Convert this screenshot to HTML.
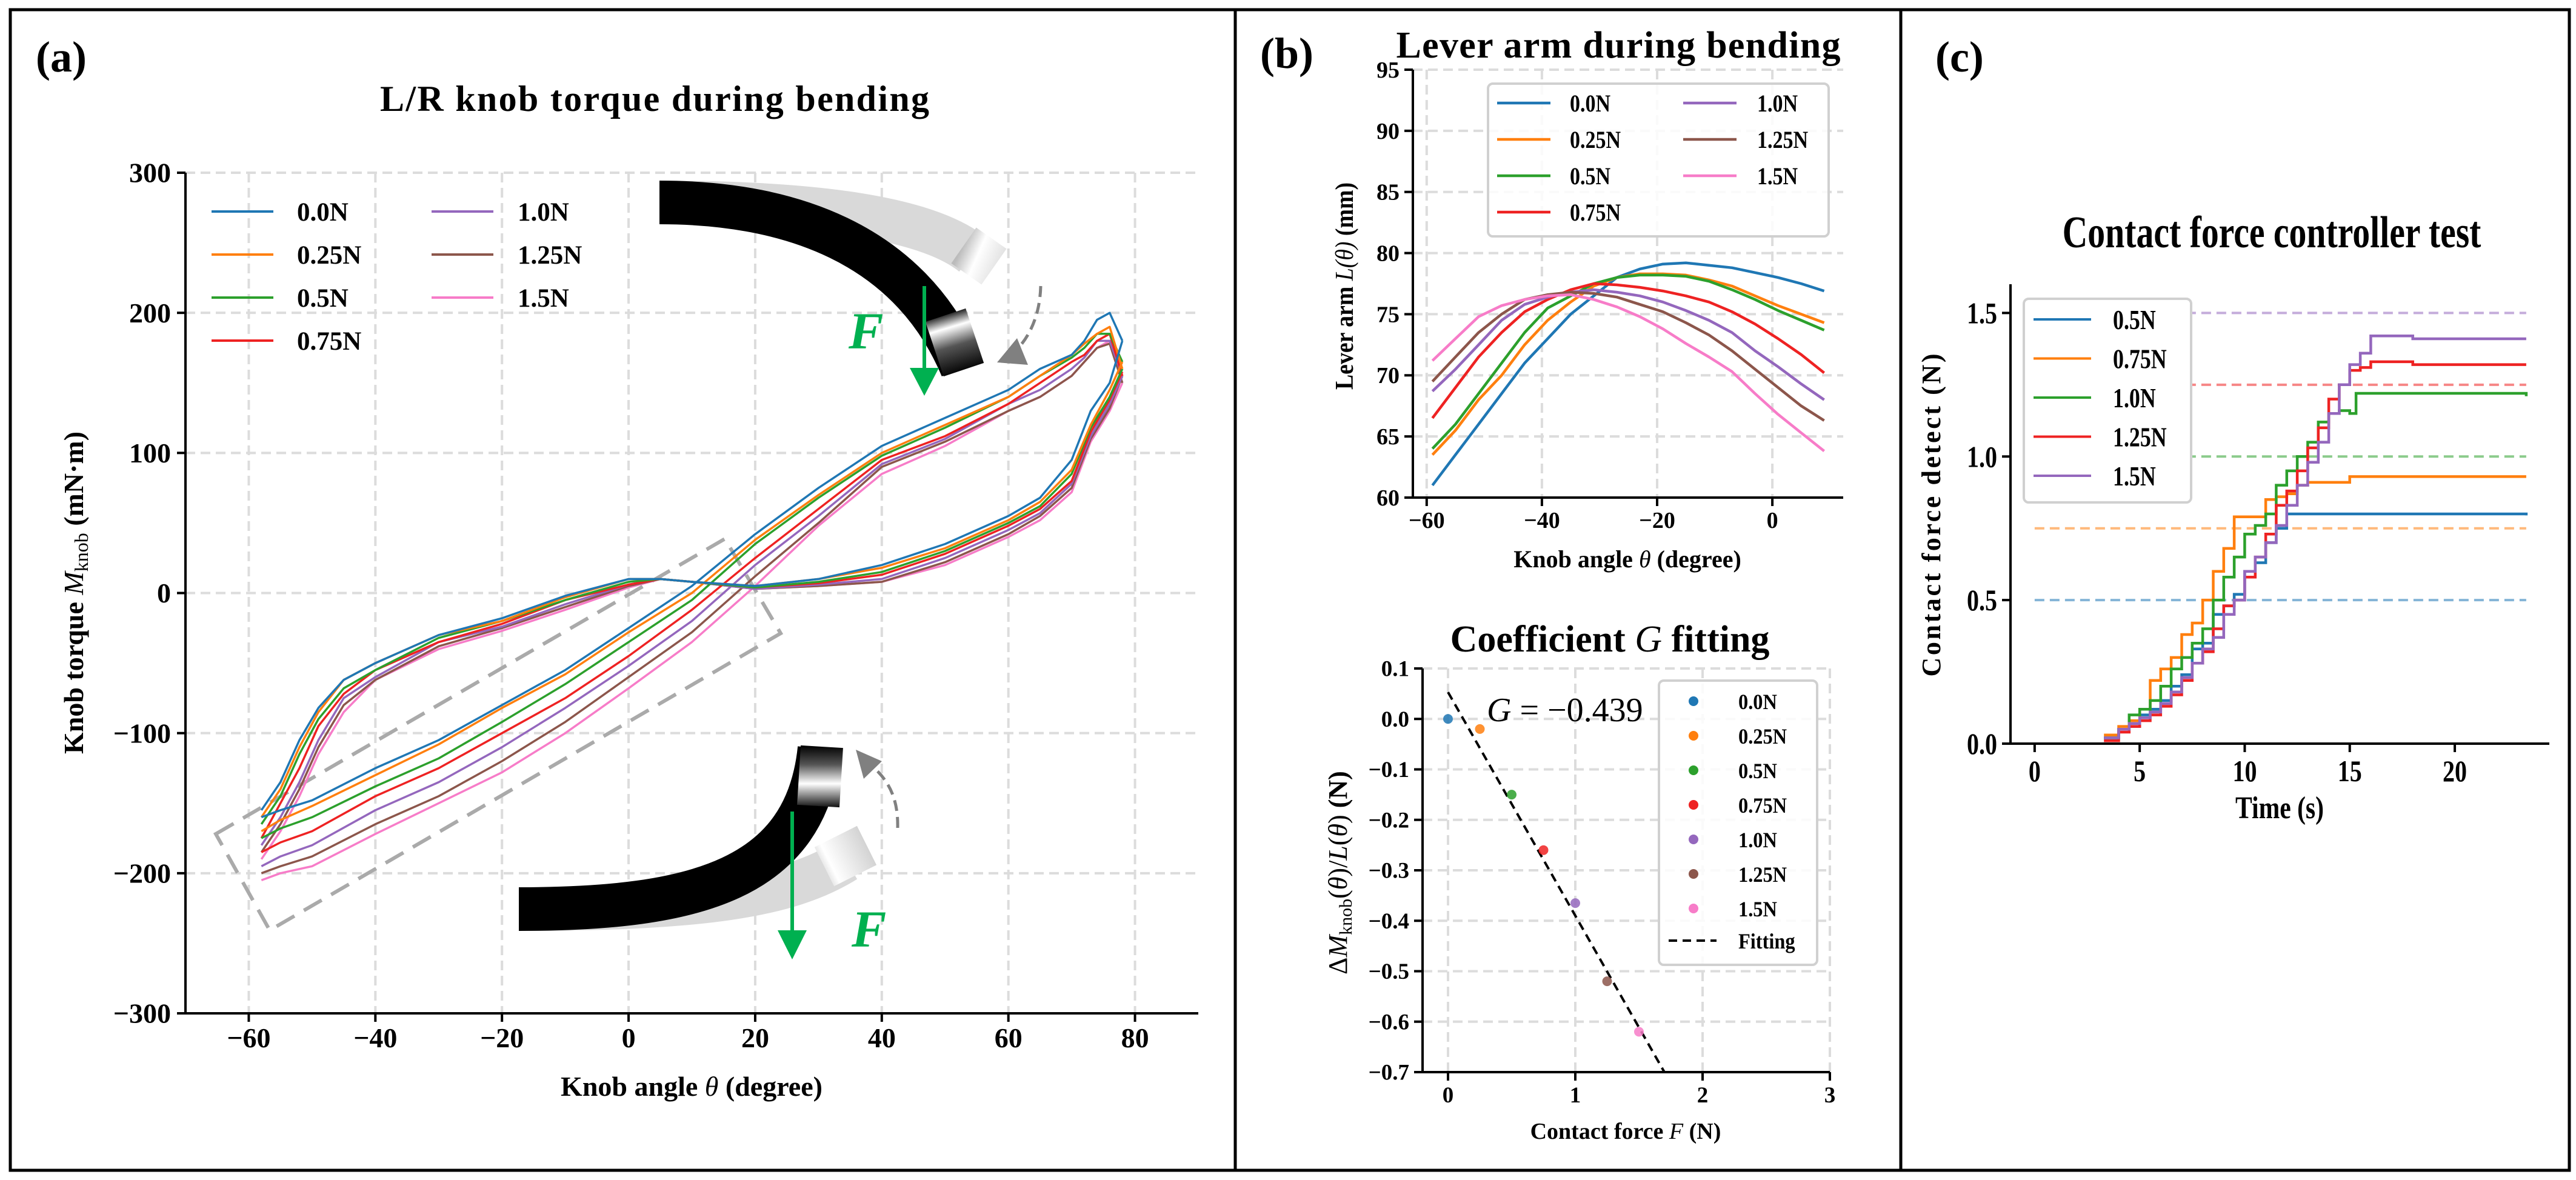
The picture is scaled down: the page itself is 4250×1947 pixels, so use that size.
<!DOCTYPE html>
<html><head><meta charset="utf-8"><style>
html,body{margin:0;padding:0;background:#fff;}
svg{display:block;}
text{font-family:"Liberation Serif",serif;}
</style></head>
<body>
<svg id="fig" width="4250" height="1947" viewBox="0 0 4250 1947" xmlns="http://www.w3.org/2000/svg">
<defs>
<linearGradient id="tipUp" gradientUnits="userSpaceOnUse" x1="1560" y1="515" x2="1590" y2="615">
<stop offset="0" stop-color="#000"/><stop offset="0.25" stop-color="#fff"/><stop offset="0.55" stop-color="#555"/><stop offset="1" stop-color="#000"/></linearGradient>
<linearGradient id="tipDn" gradientUnits="userSpaceOnUse" x1="1352" y1="1335" x2="1352" y2="1230">
<stop offset="0" stop-color="#000"/><stop offset="0.4" stop-color="#fff"/><stop offset="0.7" stop-color="#555"/><stop offset="1" stop-color="#000"/></linearGradient>
<linearGradient id="ghostUp" gradientUnits="userSpaceOnUse" x1="1590" y1="400" x2="1680" y2="440">
<stop offset="0" stop-color="#bbb"/><stop offset="0.3" stop-color="#fff"/><stop offset="1" stop-color="#ccc"/></linearGradient>
<linearGradient id="ghostDn" gradientUnits="userSpaceOnUse" x1="1340" y1="1440" x2="1440" y2="1390">
<stop offset="0" stop-color="#bbb"/><stop offset="0.3" stop-color="#fff"/><stop offset="1" stop-color="#ccc"/></linearGradient>
</defs>
<rect x="0" y="0" width="4250" height="1947" fill="#fff"/>
<g id="frames" fill="none" stroke="#000" stroke-width="5">
<rect x="17" y="16" width="4222" height="1915"/>
<line x1="2038" y1="16" x2="2038" y2="1931"/>
<line x1="3136" y1="16" x2="3136" y2="1931"/>
</g>
<text x="59" y="118" font-size="72" font-weight="bold">(a)</text>
<text x="2079" y="112" font-size="72" font-weight="bold">(b)</text>
<text x="3193" y="118" font-size="72" font-weight="bold">(c)</text>
<g id="gA"></g><g id="gB1"></g><g id="gB2"></g><g id="gC"></g>
</svg>
<script>
// ---------- DATA ----------
const forces = ['0.0N','0.25N','0.5N','0.75N','1.0N','1.25N','1.5N'];
const colors = ['#1f77b4','#ff7f0e','#2ca02c','#ee2222','#9467bd','#8c564b','#f77cc8'];
// Panel (a) branch A (forward)
const thetaA = [-58,-55,-52,-49,-45,-40,-30,-20,-10,0,5,10,20,30,40,50,60,65,70,73,76,78];
const torqueA0 = [-155,-135,-105,-82,-62,-50,-30,-18,-2,10,10,8,5,10,20,35,55,68,95,130,150,180];
const torqueA1 = [-160,-140,-110,-85,-62,-50,-30,-20,-3,10,10,8,5,10,18,32,52,65,88,120,145,165];
const torqueA2 = [-165,-145,-115,-90,-68,-55,-32,-20,-5,8,10,8,4,8,15,30,50,62,85,118,140,160];
const torqueA3 = [-175,-150,-125,-95,-72,-55,-35,-22,-5,6,10,8,4,7,13,28,48,60,80,115,138,158];
const torqueA4 = [-180,-160,-135,-105,-75,-60,-35,-24,-8,6,10,8,3,6,10,25,45,57,78,112,135,155];
const torqueA5 = [-185,-165,-140,-110,-80,-62,-38,-25,-10,5,10,8,3,5,8,22,42,55,75,110,132,155];
const torqueA6 = [-190,-170,-145,-115,-85,-62,-40,-27,-12,4,10,8,3,5,8,20,40,52,72,108,130,150];
// Panel (a) branch B (return)
const thetaB = [78,76,74,72,70,65,60,50,40,30,20,10,0,-10,-20,-30,-40,-50,-55,-58];
const torqueB0 = [180,200,195,180,170,160,145,125,105,75,42,5,-25,-55,-80,-105,-125,-148,-155,-160];
const torqueB1 = [160,190,185,178,170,155,140,120,100,70,38,0,-28,-58,-82,-108,-130,-152,-162,-170];
const torqueB2 = [165,185,185,175,168,155,140,118,98,68,35,-5,-35,-65,-92,-118,-138,-160,-168,-175];
const torqueB3 = [155,185,180,170,165,150,135,112,95,60,25,-12,-45,-75,-100,-125,-145,-170,-178,-185];
const torqueB4 = [155,180,180,168,160,145,135,110,92,55,20,-20,-52,-82,-110,-135,-155,-180,-188,-195];
const torqueB5 = [150,178,175,165,155,140,130,108,90,50,12,-28,-60,-92,-120,-145,-165,-188,-195,-200];
const torqueB6 = [150,180,175,165,155,140,130,105,85,48,5,-35,-68,-100,-128,-150,-172,-195,-200,-205];
const ticksAx = [-60,-40,-20,0,20,40,60,80];
const ticksAy = [-300,-200,-100,0,100,200,300];
// Panel (b) lever arm
const thetaL = [-59,-55,-51,-47,-43,-39,-35,-31,-27,-23,-19,-15,-11,-7,-3,1,5,9];
const lever0 = [61,63.5,66,68.5,71,73,75,76.5,78,78.7,79.1,79.2,79,78.8,78.4,78,77.5,76.9];
const lever1 = [63.5,65.5,68,70,72.5,74.5,76,77.3,78,78.3,78.3,78.2,77.8,77.3,76.5,75.7,75,74.3];
const lever2 = [64,66,68.5,71,73.5,75.5,76.5,77.5,78,78.2,78.2,78.1,77.7,77,76.2,75.3,74.5,73.7];
const lever3 = [66.5,69,71.5,73.5,75.2,76.2,77,77.5,77.4,77.2,76.9,76.5,76,75.2,74.2,73,71.7,70.2];
const lever4 = [68.7,70.5,72.5,74.5,75.8,76.4,76.8,77,76.8,76.5,76,75.3,74.5,73.5,72,70.7,69.3,68];
const lever5 = [69.5,71.5,73.5,75,76.2,76.6,76.8,76.7,76.4,75.8,75.2,74.3,73.3,72,70.5,69,67.5,66.3];
const lever6 = [71.2,73,74.8,75.7,76.2,76.5,76.6,76.2,75.6,74.8,73.8,72.6,71.5,70.3,68.5,66.8,65.3,63.8];
const ticksB1x = [-60,-40,-20,0];
const ticksB1y = [60,65,70,75,80,85,90,95];
// Panel (b) G fitting
const fitForce = [0,0.25,0.5,0.75,1.0,1.25,1.5];
const fitValue = [0,-0.02,-0.15,-0.26,-0.365,-0.52,-0.62];
const fitLineX = [0,1.7];
const fitLineY = [0.053,-0.7];
const ticksB2x = [0,1,2,3];
const ticksB2y = [0.1,0.0,-0.1,-0.2,-0.3,-0.4,-0.5,-0.6,-0.7];
const ticksB2yLbl = ['0.1','0.0','\u22120.1','\u22120.2','\u22120.3','\u22120.4','\u22120.5','\u22120.6','\u22120.7'];
// Panel (c)
const ctrlNames = ['0.5N','0.75N','1.0N','1.25N','1.5N'];
const ctrlColors = ['#1f77b4','#ff7f0e','#2ca02c','#ee2222','#9467bd'];
const ctrlTargets = [0.5,0.75,1.0,1.25,1.5];
const tC0 = [3.3,4,4.5,5,5.5,6,6.5,7,7.5,8,8.5,9,9.5,10,10.5,11,11.5,12,15,23.4];
const vC0 = [0.02,0.05,0.06,0.1,0.12,0.15,0.2,0.24,0.33,0.35,0.45,0.48,0.52,0.6,0.63,0.7,0.75,0.8,0.8,0.795];
const tC1 = [3.3,4,4.5,5,5.5,6,6.5,7,7.5,8,8.5,9,9.5,10,10.5,11,11.5,12,12.5,13,14,15,23.4];
const vC1 = [0.03,0.06,0.08,0.12,0.22,0.26,0.3,0.38,0.42,0.5,0.6,0.68,0.79,0.79,0.79,0.85,0.86,0.87,0.9,0.91,0.91,0.93,0.93];
const tC2 = [3.3,4,4.5,5,5.5,6,6.5,7,7.5,8,8.5,9,9.5,10,10.5,11,11.5,12,12.5,13,13.5,14,14.5,15,15.3,23.4];
const vC2 = [0.02,0.05,0.1,0.12,0.15,0.2,0.26,0.3,0.35,0.4,0.5,0.58,0.65,0.73,0.76,0.8,0.9,0.95,1.0,1.05,1.12,1.15,1.16,1.15,1.22,1.21];
const tC3 = [3.3,4,4.5,5,5.5,6,6.5,7,7.5,8,8.5,9,9.5,10,10.5,11,11.5,12,12.5,13,13.5,14,14.5,15,15.5,16,18,23.4];
const vC3 = [0.01,0.04,0.06,0.08,0.1,0.13,0.17,0.22,0.28,0.32,0.4,0.48,0.5,0.58,0.65,0.73,0.83,0.88,0.95,1.03,1.1,1.2,1.25,1.3,1.31,1.33,1.32,1.32];
const tC4 = [3.3,4,4.5,5,5.5,6,6.5,7,7.5,8,8.5,9,9.5,10,10.5,11,11.5,12,12.5,13,13.5,14,14.5,15,15.5,16,18,23.4];
const vC4 = [0.02,0.05,0.07,0.09,0.11,0.14,0.18,0.23,0.28,0.33,0.37,0.45,0.5,0.6,0.65,0.7,0.76,0.83,0.9,0.98,1.05,1.15,1.25,1.32,1.36,1.42,1.41,1.41];
const ticksCx = [0,5,10,15,20];
const ticksCy = [0.0,0.5,1.0,1.5];

// ---------- HELPERS ----------
const NS = 'http://www.w3.org/2000/svg';
function mk(tag, attrs, parent){ const e=document.createElementNS(NS,tag); for(const k in attrs) e.setAttribute(k,attrs[k]); parent.appendChild(e); return e; }
function axis(x0,x1,xmin,xmax,yTop,yBot,ymax,ymin){
  return {sx:v=>x0+(v-xmin)/(xmax-xmin)*(x1-x0), sy:v=>yBot-(v-ymin)/(ymax-ymin)*(yBot-yTop), x0,x1,yTop,yBot};
}
function txt(parent,x,y,s,size,opt){
  opt=opt||{};
  const t=mk('text',{x:0,y:0,'font-size':size,'font-weight':opt.w||'bold','text-anchor':opt.a||'start',fill:opt.fill||'#000'},parent);
  let tr='translate('+x+','+y+')';
  if(opt.rot) tr+=' rotate('+opt.rot+')';
  if(opt.sx) tr+=' scale('+opt.sx+',1)';
  t.setAttribute('transform',tr);
  if(opt.dy) t.setAttribute('dy',opt.dy);
  t.textContent=s;
  return t;
}
function polyline(parent,xs,ys,ax,color,w){
  let d='';
  for(let i=0;i<xs.length;i++) d+=(i?'L':'M')+ax.sx(xs[i]).toFixed(1)+' '+ax.sy(ys[i]).toFixed(1);
  return mk('path',{d:d,fill:'none',stroke:color,'stroke-width':w,'stroke-linejoin':'round'},parent);
}
function stepline(parent,xs,ys,ax,color,w){
  let d='M'+ax.sx(xs[0]).toFixed(1)+' '+ax.sy(ys[0]).toFixed(1);
  for(let i=1;i<xs.length;i++){ d+='L'+ax.sx(xs[i]).toFixed(1)+' '+ax.sy(ys[i-1]).toFixed(1)+'L'+ax.sx(xs[i]).toFixed(1)+' '+ax.sy(ys[i]).toFixed(1); }
  return mk('path',{d:d,fill:'none',stroke:color,'stroke-width':w},parent);
}
function frame(g,ax,xt,yt,xl,yl,fs,opt){
  // grid
  xt.forEach(v=>{ const l=mk('line',{x1:ax.sx(v),x2:ax.sx(v),y1:ax.yTop,y2:ax.yBot,stroke:'#dcdcdc','stroke-width':opt.gw||4,'stroke-dasharray':opt.gd||'16 9'},g);
      });
  yt.forEach(v=>{ const l=mk('line',{x1:ax.x0,x2:ax.x1,y1:ax.sy(v),y2:ax.sy(v),stroke:'#dcdcdc','stroke-width':opt.gw||4,'stroke-dasharray':opt.gd||'16 9'},g);
      });
}
function spines(g,ax,xt,yt,xl,yl,fs,opt){
  const sw=opt.sw||4;
  const sl=mk('line',{x1:ax.x0,x2:ax.x0,y1:ax.yTop,y2:ax.yBot+sw/2,stroke:'#000','stroke-width':sw},g);
   
  const sb=mk('line',{x1:ax.x0-sw/2,x2:ax.x1,y1:ax.yBot,y2:ax.yBot,stroke:'#000','stroke-width':sw},g);
   
  xt.forEach((v,i)=>{ mk('line',{x1:ax.sx(v),x2:ax.sx(v),y1:ax.yBot,y2:ax.yBot+14,stroke:'#000','stroke-width':sw},g);
    const t=txt(g,ax.sx(v),ax.yBot+(opt.xlo||55),xl[i],fs,{a:'middle',sx:opt.tsx});
      });
  yt.forEach((v,i)=>{ mk('line',{x1:ax.x0-14,x2:ax.x0,y1:ax.sy(v),y2:ax.sy(v),stroke:'#000','stroke-width':sw},g);
    const t=txt(g,ax.x0-(opt.ylo||22),ax.sy(v)+fs*0.34,yl[i],fs,{a:'end',sx:opt.tsx});
      });
}
const minus=v=>(v<0?'\u2212':'')+Math.abs(v);

// ---------- PANEL A ----------
const gA=document.getElementById('gA');
 
const axA=axis(306,1977,-70,90,285,1672,300,-300);
frame(gA,axA,ticksAx,ticksAy,null,null,0,{gw:4});
// decorations: dashed box
const box=mk('polygon',{points:'356,1376 1196,889 1288,1045 445,1535',fill:'none',stroke:'#aaa','stroke-width':6,'stroke-dasharray':'34 18'},gA);
 
// upper catheter
const gU=mk('g',{},gA);
 
mk('path',{d:'M1088 334 C1350 334 1530 360 1605 420',fill:'none',stroke:'#d9d9d9','stroke-width':72},gU);
mk('path',{d:'M1590 405 L1640 440',fill:'none',stroke:'url(#ghostUp)','stroke-width':72},gU);
mk('path',{d:'M1088 334 C1300 334 1500 400 1587 607',fill:'none',stroke:'#000','stroke-width':72},gU);
mk('path',{d:'M1560 520 L1590 610',fill:'none',stroke:'url(#tipUp)','stroke-width':70},gU);
mk('line',{x1:1525,y1:472,x2:1525,y2:615,stroke:'#00b050','stroke-width':6},gU);
mk('polygon',{points:'1501,607 1549,607 1525,653',fill:'#00b050'},gU);
const fU=txt(gU,1400,575,'F',86,{fill:'#00b050'}); fU.setAttribute('font-style','italic');
 
mk('path',{d:'M1717 472 C1716 510 1705 545 1682 572',fill:'none',stroke:'#808080','stroke-width':5,'stroke-dasharray':'18 10'},gU);
mk('polygon',{points:'1645,598 1696,602 1678,558',fill:'#808080'},gU);
// lower catheter
const gL=mk('g',{},gA);
 
mk('path',{d:'M856 1500 C1150 1500 1300 1480 1395 1420',fill:'none',stroke:'#d9d9d9','stroke-width':72},gL);
mk('path',{d:'M1360 1430 L1430 1395',fill:'none',stroke:'url(#ghostDn)','stroke-width':72},gL);
mk('path',{d:'M856 1500 C1150 1500 1330 1450 1352 1235',fill:'none',stroke:'#000','stroke-width':72},gL);
mk('path',{d:'M1350 1330 L1356 1232',fill:'none',stroke:'url(#tipDn)','stroke-width':70},gL);
mk('line',{x1:1307,y1:1339,x2:1307,y2:1545,stroke:'#00b050','stroke-width':6},gL);
mk('polygon',{points:'1283,1535 1331,1535 1307,1583',fill:'#00b050'},gL);
const fL=txt(gL,1405,1562,'F',86,{fill:'#00b050'}); fL.setAttribute('font-style','italic');
 
mk('path',{d:'M1481 1366 C1482 1320 1468 1290 1440 1265',fill:'none',stroke:'#808080','stroke-width':5,'stroke-dasharray':'18 10'},gL);
mk('polygon',{points:'1412,1237 1455,1256 1425,1285',fill:'#808080'},gL);
// series
const tA=[torqueA0,torqueA1,torqueA2,torqueA3,torqueA4,torqueA5,torqueA6];
const tB=[torqueB0,torqueB1,torqueB2,torqueB3,torqueB4,torqueB5,torqueB6];
for(let s=6;s>=0;s--){
  const pa=polyline(gA,thetaA,tA[s],axA,colors[s],3.5);
   
  const pb=polyline(gA,thetaB,tB[s],axA,colors[s],3.5);
   
}
spines(gA,axA,ticksAx,ticksAy,ticksAx.map(minus),ticksAy.map(minus),46,{sw:4,xlo:56,ylo:24});
// legend A
forces.forEach((f,i)=>{
  const col=i<4?0:1, row=i<4?i:i-4;
  const lx=col?712:349, tx=col?854:490, y=349+row*71;
  const l=mk('line',{x1:lx,x2:lx+102,y1:y,y2:y,stroke:colors[i],'stroke-width':4},gA);
   
  const t=txt(gA,tx,y+15,f,43);
   
});
const titA=txt(gA,1080,183,'L/R knob torque during bending',60,{a:'middle'});
titA.setAttribute('textLength',906);
 
const xlA=txt(gA,1141,1808,'Knob angle ',46,{a:'middle'});
const th1=mk('tspan',{'font-style':'italic','font-weight':'normal'},xlA); th1.textContent='\u03b8';
const dg1=mk('tspan',{},xlA); dg1.textContent=' (degree)';
 
const ylA=txt(gA,137,978,'Knob torque ',46,{a:'middle',rot:-90});
const m1=mk('tspan',{'font-style':'italic','font-weight':'normal'},ylA); m1.textContent='M';
const m2=mk('tspan',{'font-weight':'normal','font-size':32,dy:8},ylA); m2.textContent='knob';
const m3=mk('tspan',{dy:-8},ylA); m3.textContent=' (mN\u00b7m)';
 

// ---------- PANEL B1 ----------
const gB1=document.getElementById('gB1');
 
const axB1=axis(2331,3041,-62.4,12.3,115,821,95,60);
frame(gB1,axB1,ticksB1x,ticksB1y,null,null,0,{gw:4});
const levers=[lever0,lever1,lever2,lever3,lever4,lever5,lever6];
for(let s=0;s<7;s++){
  const p=polyline(gB1,thetaL,levers[s],axB1,colors[s],4.5);
   
}
spines(gB1,axB1,ticksB1x,ticksB1y,ticksB1x.map(minus),ticksB1y.map(String),38,{sw:4,xlo:50,ylo:22});
const lgB1=mk('rect',{x:2455,y:138,width:562,height:252,rx:8,fill:'#fff','fill-opacity':0.85,stroke:'#d0d0d0','stroke-width':4},gB1);
 
forces.forEach((f,i)=>{
  const col=i<4?0:1,row=i<4?i:i-4;
  const lx=col?2777:2470, tx=col?2899:2590, y=170+row*60;
  const l=mk('line',{x1:lx,x2:lx+88,y1:y,y2:y,stroke:colors[i],'stroke-width':4.5},gB1);
   
  const t=txt(gB1,tx,y+14,f,40,{sx:0.85});
   
});
const titB1=txt(gB1,2670,95,'Lever arm during bending',62,{a:'middle'});
titB1.setAttribute('textLength',733);
 
const xlB1=txt(gB1,2685,936,'Knob angle ',40,{a:'middle'});
const th2=mk('tspan',{'font-style':'italic','font-weight':'normal'},xlB1); th2.textContent='\u03b8';
const dg2=mk('tspan',{},xlB1); dg2.textContent=' (degree)';
 
const ylB1=txt(gB1,2232,472,'Lever arm ',42,{a:'middle',rot:-90,sx:0.9});
const lt=mk('tspan',{'font-style':'italic','font-weight':'normal'},ylB1); lt.textContent='L(\u03b8)';
const lu=mk('tspan',{},ylB1); lu.textContent=' (mm)';
 

// ---------- PANEL B2 ----------
const gB2=document.getElementById('gB2');
 
const axB2=axis(2347,3019,-0.2,3,1103,1769,0.1,-0.7);
frame(gB2,axB2,ticksB2x,ticksB2y,null,null,0,{gw:4});
const fl=mk('line',{x1:axB2.sx(fitLineX[0]),y1:axB2.sy(fitLineY[0]),x2:axB2.sx(fitLineX[1]),y2:axB2.sy(fitLineY[1]),stroke:'#000','stroke-width':4,'stroke-dasharray':'14 9'},gB2);
 
fitForce.forEach((f,i)=>{
  const c=mk('circle',{cx:axB2.sx(f),cy:axB2.sy(fitValue[i]),r:8,fill:colors[i],'fill-opacity':0.85},gB2);
   
});
spines(gB2,axB2,ticksB2x,ticksB2y,ticksB2x.map(String),ticksB2yLbl,37,{sw:4,xlo:50,ylo:22});
const lgB2=mk('rect',{x:2737,y:1123,width:261,height:469,rx:8,fill:'#fff','fill-opacity':0.85,stroke:'#d0d0d0','stroke-width':4},gB2);
 
forces.forEach((f,i)=>{
  const y=1157+i*57;
  const c=mk('circle',{cx:2794,cy:y,r:8,fill:colors[i]},gB2);
   
  const t=txt(gB2,2868,y+13,f,36,{sx:0.9});
   
});
const lf=mk('line',{x1:2753,x2:2832,y1:1552,y2:1552,stroke:'#000','stroke-width':4,'stroke-dasharray':'14 9'},gB2);
 
const tf=txt(gB2,2868,1565,'Fitting',36,{sx:0.9});
 
const gAnn=txt(gB2,2453,1190,'',56,{w:'normal'});
const gg=mk('tspan',{'font-style':'italic'},gAnn); gg.textContent='G';
const gv=mk('tspan',{},gAnn); gv.textContent=' = \u22120.439';
 
const titB2=txt(gB2,2656,1075,'Coefficient ',62,{a:'middle'});
const tg=mk('tspan',{'font-style':'italic','font-weight':'normal'},titB2); tg.textContent='G';
const tg2=mk('tspan',{},titB2); tg2.textContent=' fitting';
 
const xlB2=txt(gB2,2682,1879,'Contact force ',38,{a:'middle'});
const ff=mk('tspan',{'font-style':'italic','font-weight':'normal'},xlB2); ff.textContent='F';
const fn=mk('tspan',{},xlB2); fn.textContent=' (N)';
 
const ylB2=txt(gB2,2222,1440,'\u0394',44,{a:'middle',rot:-90,w:'normal'});
const y1=mk('tspan',{'font-style':'italic'},ylB2); y1.textContent='M';
const y2=mk('tspan',{'font-size':30,dy:8},ylB2); y2.textContent='knob';
const y3=mk('tspan',{dy:-8},ylB2); y3.textContent='(';
const y4=mk('tspan',{'font-style':'italic'},ylB2); y4.textContent='\u03b8';
const y5=mk('tspan',{},ylB2); y5.textContent=')/';
const y6=mk('tspan',{'font-style':'italic'},ylB2); y6.textContent='L';
const y7=mk('tspan',{},ylB2); y7.textContent='(';
const y8=mk('tspan',{'font-style':'italic'},ylB2); y8.textContent='\u03b8';
const y9=mk('tspan',{},ylB2); y9.textContent=') ';
const y10=mk('tspan',{'font-weight':'bold'},ylB2); y10.textContent='(N)';
 

// ---------- PANEL C ----------
const gC=document.getElementById('gC');
 
const axC=axis(3317,4206,-1.15,24.5,469,1227,1.6,0);
const tCs=[tC0,tC1,tC2,tC3,tC4], vCs=[vC0,vC1,vC2,vC3,vC4];
ctrlTargets.forEach((v,i)=>{
  const l=mk('line',{x1:axC.sx(0),x2:axC.sx(23.4),y1:axC.sy(v),y2:axC.sy(v),stroke:ctrlColors[i],'stroke-opacity':0.55,'stroke-width':4,'stroke-dasharray':'16 9'},gC);
   
});
for(let s=0;s<5;s++){
  const p=stepline(gC,tCs[s],vCs[s],axC,ctrlColors[s],4.5);
   
}
spines(gC,axC,ticksCx,ticksCy,ticksCx.map(String),ticksCy.map(v=>v.toFixed(1)),50,{sw:4,xlo:62,ylo:22,tsx:0.8});
const lgC=mk('rect',{x:3339,y:493,width:276,height:336,rx:8,fill:'#fff',stroke:'#d0d0d0','stroke-width':4},gC);
 
ctrlNames.forEach((f,i)=>{
  const y=527+i*64.5;
  const l=mk('line',{x1:3355,x2:3450,y1:y,y2:y,stroke:ctrlColors[i],'stroke-width':4},gC);
   
  const t=txt(gC,3486,y+16,f,46,{sx:0.78});
   
});
const titC=txt(gC,3748,408,'Contact force controller test',74,{a:'middle',sx:0.78});
 
const xlC=txt(gC,3761,1350,'Time (s)',52,{a:'middle',sx:0.8});
 
const ylC=txt(gC,3201,850,'Contact force detect (N)',44,{a:'middle',rot:-90});
ylC.setAttribute('textLength',533);
 
</script>
</body></html>
